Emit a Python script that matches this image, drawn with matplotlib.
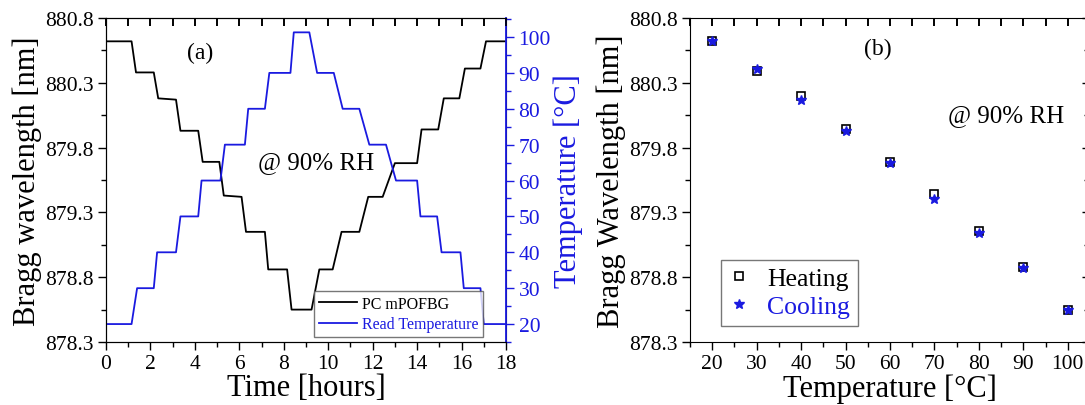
import numpy as np
import matplotlib
matplotlib.use("Agg")
import matplotlib.pyplot as plt
from matplotlib.lines import TICKDOWN
from matplotlib.ticker import MultipleLocator, FixedLocator, FormatStrFormatter

plt.rcParams.update({'font.family': 'Liberation Serif', 'font.size': 15.5})

# (a) time series, breakpoints
time_h = [0, 1.15, 1.35, 2.15, 2.35, 3.15, 3.35, 4.15, 4.35, 5.1, 5.3, 6.1,
          6.3, 7.15, 7.3, 8.15, 8.35, 9.25, 9.6, 10.2, 10.6, 11.4, 11.8, 12.45,
          13.0, 14.0, 14.2, 14.95, 15.2, 15.9, 16.15, 16.85, 17.1, 18]
wavelength = [880.62, 880.62, 880.38, 880.38, 880.18, 880.17, 879.93, 879.93,
              879.69, 879.69, 879.43, 879.42, 879.15, 879.15, 878.86, 878.86,
              878.55, 878.55, 878.86, 878.86, 879.15, 879.15, 879.42, 879.42,
              879.68, 879.68, 879.94, 879.94, 880.18, 880.18, 880.41, 880.41,
              880.62, 880.62]
temp_time_h = [0, 1.15, 1.4, 2.15, 2.3, 3.15, 3.35, 4.15, 4.3, 5.15, 5.35, 6.25,
               6.4, 7.15, 7.35, 8.3, 8.45, 9.15, 9.5, 10.25, 10.65, 11.4, 11.85,
               12.6, 13.05, 14.0, 14.15, 14.9, 15.1, 15.95, 16.1, 16.85, 17.0, 18]
read_temp = [20, 20, 30, 30, 40, 40, 50, 50, 60, 60, 70, 70, 80, 80, 90, 90,
             101.3, 101.3, 90, 90, 80, 80, 70, 70, 60, 60, 50, 50, 40, 40,
             30, 30, 20, 20]

# (b) Bragg wavelength vs temperature
temp_set = [20, 30, 40, 50, 60, 70, 80, 90, 100]
heating = [880.62, 880.39, 880.20, 879.94, 879.69, 879.44, 879.16, 878.88, 878.55]
cooling = [880.62, 880.41, 880.17, 879.93, 879.68, 879.40, 879.14, 878.87, 878.55]

wl_major = [878.3, 878.8, 879.3, 879.8, 880.3, 880.8]
wl_minor = [878.55, 879.05, 879.55, 880.05, 880.55]

blue = '#1a1ae0'

rect_a = [106/1085, 63/406, 400/1085, 324/406]
rect_b = [690/1085, 63/406, 400/1085, 324/406]

fig = plt.figure(figsize=(10.85, 4.06), dpi=100)
ax1 = fig.add_axes(rect_a)
ax3 = fig.add_axes(rect_b)


def wl_axis(ax, xlim, x_major, x_minor):
    ax.set_xlim(*xlim)
    ax.set_ylim(878.3, 880.8)
    ax.xaxis.set_major_locator(MultipleLocator(x_major))
    ax.xaxis.set_minor_locator(MultipleLocator(x_minor))
    ax.yaxis.set_major_locator(FixedLocator(wl_major))
    ax.yaxis.set_minor_locator(FixedLocator(wl_minor))
    ax.yaxis.set_major_formatter(FormatStrFormatter('%.1f'))
    ax.tick_params(which='both', direction='out', width=1)
    ax.tick_params(which='major', length=5.5)
    ax.tick_params(which='minor', length=3.5)


def top_ticks(ax, rect, xlim, step, name):
    # overlay axes that only carries the inward ticks on top
    ov = fig.add_axes(rect, facecolor='none', label=name)
    ov.set_xlim(*xlim)
    ov.set_ylim(0, 1)
    ov.yaxis.set_visible(False)
    for s in ov.spines.values():
        s.set_visible(False)
    ov.xaxis.set_major_locator(MultipleLocator(step))
    ov.tick_params(axis='x', which='both', top=True, bottom=False,
                   labeltop=False, labelbottom=False, direction='in',
                   length=6, width=1.2, color='black')
    # same tick positions drawn as tick markers on the top edge as well
    locs = [v for v in MultipleLocator(step).tick_values(*xlim)
            if xlim[0] <= v <= xlim[1]]
    ax.plot(locs, np.ones(len(locs)), transform=ax.get_xaxis_transform(),
            ls='none', marker=TICKDOWN, ms=6, mew=1.2, color='black',
            clip_on=False, zorder=5)
    return ov


# panel (a)
l1, = ax1.plot(time_h, wavelength, color='black', lw=1.3)
wl_axis(ax1, (0, 18), 2, 1)
ax1.set_xlabel('Time [hours]', fontsize=22, labelpad=0)
ax1.set_ylabel('Bragg wavelength [nm]', fontsize=22, labelpad=2)

ax2 = ax1.twinx()
l2, = ax2.plot(temp_time_h, read_temp, color=blue, lw=1.3)
ax2.set_ylim(15, 105.3)
ax2.yaxis.set_major_locator(MultipleLocator(10))
ax2.yaxis.set_minor_locator(MultipleLocator(5))
ax2.tick_params(which='both', direction='out', colors=blue, width=1)
ax2.tick_params(which='major', length=5.5)
ax2.tick_params(which='minor', length=3.5)
ax2.spines['right'].set_color(blue)
ax2.spines['right'].set_linewidth(1.3)
ax2.set_ylabel('Temperature [°C]', fontsize=22, color=blue, labelpad=2)

ax2.text(0.235, 0.895, '(a)', transform=ax1.transAxes, ha='center', va='center', fontsize=17)
ax2.text(0.525, 0.556, '@ 90% RH', transform=ax1.transAxes, ha='center', va='center', fontsize=18)

leg = ax2.legend([l1, l2], ['PC mPOFBG', 'Read Temperature'], loc='lower left',
                 bbox_to_anchor=(0.52, 0.015), borderaxespad=0, fontsize=11.5,
                 frameon=True, fancybox=False, edgecolor='#555555',
                 handlelength=2.4, handletextpad=0.3, borderpad=0.3,
                 labelspacing=0.3)
leg.get_frame().set_linewidth(1)
leg.get_texts()[1].set_color(blue)

# panel (b)
ax3.plot(temp_set, heating, ls='none', marker='s', ms=6, mfc='none', mec='black',
         mew=1.2, label='Heating')
ax3.plot(temp_set, cooling, ls='none', marker='*', ms=7, color=blue, label='Cooling')
wl_axis(ax3, (15, 105), 10, 5)
sec_r = ax3.secondary_yaxis('right')
sec_r.yaxis.set_major_locator(FixedLocator(wl_major))
sec_r.yaxis.set_minor_locator(FixedLocator(wl_minor))
sec_r.tick_params(which='both', direction='in', labelright=False, width=1)
sec_r.tick_params(which='major', length=6)
sec_r.tick_params(which='minor', length=4)
ax3.set_xlabel('Temperature [°C]', fontsize=22, labelpad=0)
ax3.set_ylabel('Bragg Wavelength [nm]', fontsize=22, labelpad=2)

ax3.text(0.47, 0.905, '(b)', transform=ax3.transAxes, ha='center', va='center', fontsize=17)
ax3.text(0.79, 0.70, '@ 90% RH', transform=ax3.transAxes, ha='center', va='center', fontsize=18)

leg2 = ax3.legend(loc='lower left', bbox_to_anchor=(0.0775, 0.049),
                  borderaxespad=0, fontsize=18.5,
                  frameon=True, fancybox=False, edgecolor='#555555',
                  handlelength=0.8, handletextpad=0.7, borderpad=0.3,
                  labelspacing=0.2)
leg2.get_frame().set_linewidth(1)
leg2.get_texts()[1].set_color(blue)

top_ticks(ax1, rect_a, (0, 18), 1, 'top_a')
top_ticks(ax3, rect_b, (15, 105), 5, 'top_b')

fig.savefig('out.png', dpi=100)
